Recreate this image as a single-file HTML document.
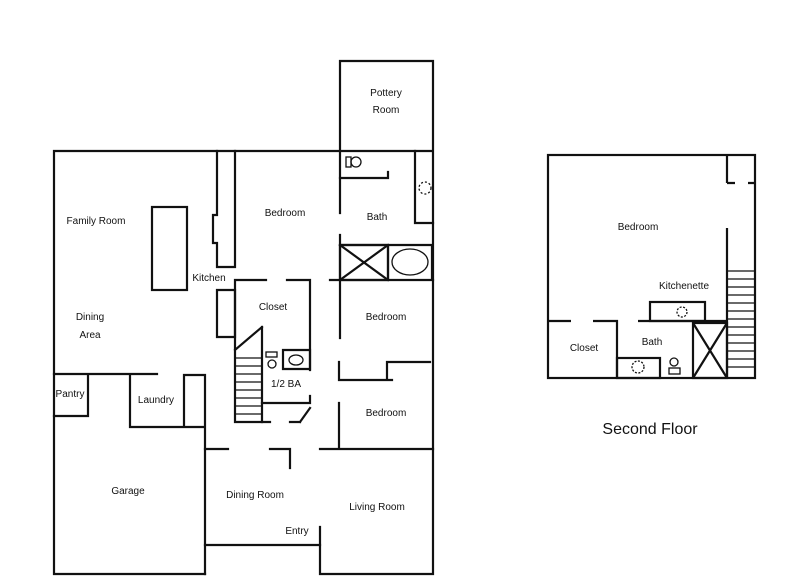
<!DOCTYPE html>
<html><head><meta charset="utf-8"><style>
html,body{margin:0;padding:0;background:#fff;}
svg{display:block}
text{font-family:"Liberation Sans",sans-serif;font-size:10px;fill:#111;text-anchor:middle}
</style></head><body>
<svg width="800" height="588" viewBox="0 0 800 588" xmlns="http://www.w3.org/2000/svg">
<g stroke="#111" stroke-width="2.2" fill="none" stroke-linecap="square">
<!-- outer -->
<path d="M54 151 H433 M54 151 V574 H205 M433 61 V574 H320 V527 M340 61 H433 M340 61 V213 M340 235 V338"/>
<!-- pantry/laundry -->
<path d="M54 374 H88 V416 H54 M88 374 H157 M130 374 V427 H205 M184 427 V375 H205 V574"/>
<!-- kitchen walls -->
<path d="M217 151 V215 H213 V243 H217 V267 H235 V151 M217 290 V337 H235 V290 H217"/>
<rect x="152" y="207" width="35" height="83"/>
<!-- closet -->
<path d="M235 280 H266 M287 280 H310 V370 M235 280 V422 H262 V327 M235 350 L262 327"/>
<path d="M283 350 H310 V369 H283 Z M262 403 H310 V396 M310 408 L300 422 M290 422 H300 M262 422 H270"/>
<!-- bath -->
<path d="M340 178 H388 V172 M415 151 V223 H433 M330 280 H433 M340 245 H432 V280 M388 245 V280"/>
<rect x="340" y="245" width="48" height="35"/>
<path d="M340 245 L388 280 M388 245 L340 280"/>
<!-- bedroom closet / bedroom3 -->
<path d="M339 362 V380 H392 M387 380 V362 H430 M339 403 V449 M320 449 H433 M205 449 H228 M270 449 H290 V468 M205 545 H320"/>
</g>
<g stroke="#111" stroke-width="1.3" fill="none">
<path d="M235 358 H262 M235 366 H262 M235 374 H262 M235 382 H262 M235 390 H262 M235 398 H262 M235 406 H262 M235 414 H262"/>
<ellipse cx="410" cy="262" rx="18" ry="13"/>
<rect x="346" y="157" width="5" height="10"/><circle cx="356" cy="162" r="5"/>
<circle cx="425" cy="188" r="6" stroke-dasharray="2 2"/>
<circle cx="272" cy="364" r="4"/><rect x="266" y="352" width="11" height="5"/>
<ellipse cx="296" cy="360" rx="7" ry="5"/>
</g>
<!-- second floor -->
<g stroke="#111" stroke-width="2.2" fill="none">
<rect x="548" y="155" width="207" height="223"/>
<path d="M548 321 H571 M593 321 H617 V378 M638 321 H727 M727 155 V183 M727 183 H735 M748 183 H755 M727 228 V378"/>
<rect x="650" y="302" width="55" height="19"/>
<rect x="693" y="323" width="34" height="55"/>
<path d="M693 323 L727 378 M727 323 L693 378"/>
<rect x="617" y="358" width="43" height="20"/>
</g>
<g stroke="#111" stroke-width="1.3" fill="none">
<path d="M727 279 H755 M727 287 H755 M727 295 H755 M727 303 H755 M727 311 H755 M727 319 H755 M727 327 H755 M727 335 H755 M727 343 H755 M727 351 H755 M727 359 H755 M727 367 H755"/>
<path d="M727 271 H755"/>
<circle cx="682" cy="312" r="5" stroke-dasharray="2 1.5"/>
<circle cx="638" cy="367" r="6" stroke-dasharray="2 1.5"/>
<circle cx="674" cy="362" r="4"/><rect x="669" y="368" width="11" height="6"/>
</g>
<text x="386" y="96">Pottery</text><text x="386" y="113">Room</text>
<text x="96" y="224">Family Room</text>
<text x="285" y="216">Bedroom</text>
<text x="377" y="220">Bath</text>
<text x="209" y="281">Kitchen</text>
<text x="273" y="310">Closet</text>
<text x="386" y="320">Bedroom</text>
<text x="90" y="320">Dining</text><text x="90" y="338">Area</text>
<text x="286" y="387">1/2 BA</text>
<text x="70" y="397">Pantry</text>
<text x="156" y="403">Laundry</text>
<text x="386" y="416">Bedroom</text>
<text x="128" y="494">Garage</text>
<text x="255" y="498">Dining Room</text>
<text x="377" y="510">Living Room</text>
<text x="297" y="534">Entry</text>
<text x="638" y="230">Bedroom</text>
<text x="684" y="289">Kitchenette</text>
<text x="584" y="351">Closet</text>
<text x="652" y="345">Bath</text>
<text x="650" y="434" style="font-size:16px">Second Floor</text>
</svg>
</body></html>
